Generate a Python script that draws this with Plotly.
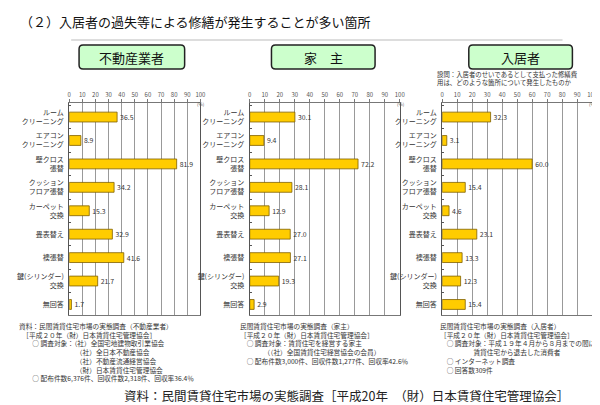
import plotly.graph_objects as go

W, H = 600, 405
FONT = "Noto Sans CJK JP"

# 箇所（各パネル共通）
categories = ["ルーム<br>クリーニング", "エアコン<br>クリーニング", "壁クロス<br>張替",
              "クッション<br>フロア張替", "カーペット<br>交換", "畳表替え", "襖張替",
              "鍵(シリンダー)<br>交換", "無回答"]

# 回答割合 (%)
fudosan = [36.5, 8.9, 81.9, 34.2, 15.3, 32.9, 41.6, 21.7, 1.7]
yanushi = [30.1, 9.4, 72.2, 28.1, 12.9, 27.0, 27.1, 19.3, 2.9]
nyukyosha = [32.3, 3.1, 60.0, 15.4, 4.6, 23.1, 13.3, 12.3, 15.4]

panel_titles = ["不動産業者", "家　主", "入居者"]
tick_vals = [0, 10, 20, 30, 40, 50, 60, 70, 80, 90, 100]

notes_fudosan = [
    "資料：民間賃貸住宅市場の実態調査（不動産業者）",
    "　［平成２０年（財）日本賃貸住宅管理協会］",
    "　　○ 調査対象：（社）全国宅地建物取引業協会",
    "　　　　　　　　　（社）全日本不動産協会",
    "　　　　　　　　　（社）不動産流通経営協会",
    "　　　　　　　　　（財）日本賃貸住宅管理協会",
    "　　○ 配布件数6,376件、回収件数2,318件、回収率36.4％",
]
notes_yanushi = [
    "民間賃貸住宅市場の実態調査（家主）",
    "［平成２０年（財）日本賃貸住宅管理協会］",
    "　○ 調査対象：賃貸住宅を経営する家主",
    "　　　　（（社）全国賃貸住宅経営協会の会員）",
    "　○ 配布件数3,000件、回収件数1,277件、回収率42.6％",
]
notes_nyukyosha = [
    "民間賃貸住宅市場の実態調査（入居者）",
    "［平成２０年（財）日本賃貸住宅管理協会］",
    "　○ 調査対象：平成１９年４月から８月までの間に",
    "　　　　　賃貸住宅から退去した消費者",
    "　○ インターネット調査",
    "　○ 回答数309件",
]


def px(x):
    return x / W


def py(y):
    return 1 - y / H


def round_rect(x0, y0, x1, y1, r):
    # 角丸の四角（ピクセル座標 -> paper）
    X0, X1 = px(x0), px(x1)
    Y0, Y1 = py(y0), py(y1)
    rx, ry = r / W, r / H
    return (f"M {X0 + rx},{Y0} L {X1 - rx},{Y0} Q {X1},{Y0} {X1},{Y0 - ry} "
            f"L {X1},{Y1 + ry} Q {X1},{Y1} {X1 - rx},{Y1} "
            f"L {X0 + rx},{Y1} Q {X0},{Y1} {X0},{Y1 + ry} "
            f"L {X0},{Y0 - ry} Q {X0},{Y0} {X0 + rx},{Y0} Z")


fig = go.Figure()

x_domains = [(60, 193), (243, 395), (438, 590)]
y_dom = [py(307), py(95)]
series = [fudosan, yanushi, nyukyosha]

for i, (vals, (d0, d1)) in enumerate(zip(series, x_domains)):
    sfx = "" if i == 0 else str(i + 1)
    fig.add_trace(go.Bar(
        x=vals, y=categories, orientation="h",
        xaxis="x" + sfx, yaxis="y" + sfx,
        width=0.42,
        marker=dict(color="#FFCC00", line=dict(color="#7F6000", width=0.8)),
        text=[f"{v:.1f}" for v in vals], textposition="outside",
        textfont=dict(size=7, color="#333", family=FONT),
        cliponaxis=False, showlegend=False, hoverinfo="skip",
    ))
    fig.update_layout(**{
        "xaxis" + sfx: dict(
            domain=[px(d0), px(d1)], anchor="y" + sfx, range=[0, 100],
            tickvals=tick_vals, side="top",
            showgrid=True, gridcolor="#999", gridwidth=0.8,
            showline=True, mirror=True, linecolor="#777", linewidth=0.8,
            ticks="outside", ticklen=3, tickcolor="#777",
            tickfont=dict(size=6, color="#555", family=FONT),
            zeroline=False, fixedrange=True,
        ),
        "yaxis" + sfx: dict(
            domain=y_dom, anchor="x" + sfx, type="category",
            categoryarray=categories, range=[8.45, -0.6],
            showline=True, mirror=True, linecolor="#555", linewidth=1,
            ticks="inside", tickson="boundaries", ticklen=2, tickcolor="#555",
            tickfont=dict(size=7, color="#333", family=FONT),
            ticklabelstandoff=3, fixedrange=True,
        ),
    })
    # (%)
    fig.add_annotation(x=px(d1 + 1), y=py(95.5), xref="paper", yref="paper",
                       text="(%)", showarrow=False, xanchor="center", yanchor="middle",
                       borderpad=0, font=dict(size=4.5, color="#555", family=FONT))

# パネル見出しの枠
boxes = [(70, 177), (265, 370), (465, 570)]
for (b0, b1), t in zip(boxes, panel_titles):
    fig.add_shape(type="path", path=round_rect(b0, 37, b1, 61, 4), xref="paper", yref="paper",
                  fillcolor="#CCFFCC", line=dict(color="#222", width=1.5))
    fig.add_annotation(x=px((b0 + b1) / 2), y=py(49), xref="paper", yref="paper",
                       text=t, showarrow=False, xanchor="center", yanchor="middle",
                       font=dict(size=13, color="#111", family=FONT))

# タイトル下の線
fig.add_shape(type="line", x0=px(62), x1=px(560), y0=py(32), y1=py(32),
              xref="paper", yref="paper", line=dict(color="#BBB", width=1))

# タイトル
fig.add_annotation(x=px(8), y=py(13), xref="paper", yref="paper",
                   text="（２）入居者の過失等による修繕が発生することが多い箇所",
                   showarrow=False, xanchor="left", yanchor="middle",
                   font=dict(size=13, color="#111", family=FONT))

# 設問
fig.add_annotation(x=px(432), y=py(70.5), xref="paper", yref="paper",
                   text="設問：入居者のせいであるとして支払った修繕費<br>用は、どのような箇所について発生したものか",
                   showarrow=False, xanchor="left", yanchor="middle", align="left",
                   borderpad=0, font=dict(size=6.4, color="#333", family=FONT))

# 注記（ブロックごとに1つのテキスト）
note_sets = [(notes_fudosan, 8), (notes_yanushi, 232), (notes_nyukyosha, 435)]
for lines, xx in note_sets:
    fig.add_annotation(x=px(xx), y=py(312), xref="paper", yref="paper",
                       text="<br>".join(lines), showarrow=False,
                       xanchor="left", yanchor="top", align="left",
                       borderpad=0, font=dict(size=6.7, color="#333", family=FONT))

# 出典
fig.add_annotation(x=px(115), y=py(387), xref="paper", yref="paper",
                   text="資料：民間賃貸住宅市場の実態調査［平成20年　（財）日本賃貸住宅管理協会］",
                   showarrow=False, xanchor="left", yanchor="middle",
                   borderpad=0, font=dict(size=12.5, color="#222", family=FONT))

fig.update_layout(
    width=W, height=H,
    margin=dict(l=0, r=0, t=0, b=0),
    paper_bgcolor="white", plot_bgcolor="white",
    bargap=0.5,
    font=dict(family=FONT),
)

fig.write_html("out.html")
